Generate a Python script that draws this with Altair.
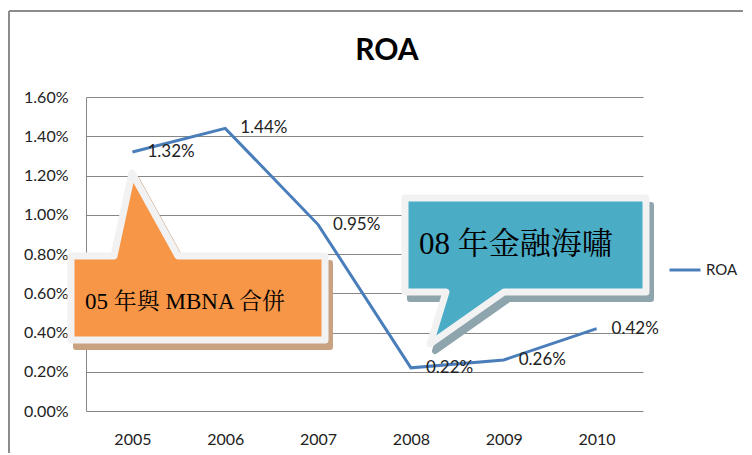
import altair as alt
import pandas as pd

# ---- data ----
years = ["2005", "2006", "2007", "2008", "2009", "2010"]
roa_pct = [1.32, 1.44, 0.95, 0.22, 0.26, 0.42]
y_ticks_pct = [0.0, 0.2, 0.4, 0.6, 0.8, 1.0, 1.2, 1.4, 1.6]
series_name = "ROA"
title_text = ["ROA"]
note_2005 = ["05 年與 MBNA 合併"]
note_2008 = ["08 年金融海嘯"]

df = pd.DataFrame({
    "year": years,
    "roa": [v / 100 for v in roa_pct],
    "series": [series_name] * len(years),
})
one = pd.DataFrame({"k": [0]})

W, H = 557, 314
LINE = "#4a7ebb"
GRID = "#868686"
SANS = "Lato"
SERIF = "Liberation Serif, Noto Serif CJK TC, Noto Sans CJK TC"

x = alt.X(
    "year:O", title=None,
    scale=alt.Scale(type="point", padding=0.5),
    axis=alt.Axis(labelAngle=0, ticks=False, domain=False, labelPadding=20,
                  labelFontSize=16, labelColor="#222", labelFont=SANS),
)
y = alt.Y(
    "roa:Q", title=None,
    scale=alt.Scale(domain=[0, 0.016], nice=False, zero=True),
    axis=alt.Axis(values=[v / 100 for v in y_ticks_pct], format=".2%", ticks=False,
                  domain=True, domainColor=GRID, gridColor=GRID, gridOpacity=1,
                  labelPadding=18, labelFontSize=16, labelColor="#222", labelFont=SANS),
)

base = alt.Chart(df)

line = base.mark_line(strokeWidth=3).encode(
    x=x, y=y,
    color=alt.Color(
        "series:N",
        scale=alt.Scale(range=[LINE]),
        legend=alt.Legend(title=None, orient="none", legendX=582, legendY=156,
                          symbolType="stroke", symbolSize=961, symbolStrokeWidth=3,
                          labelFontSize=15, labelFont=SANS, labelColor="#222",
                          labelOffset=4, padding=0),
    ),
)
labels = base.mark_text(align="left", baseline="middle", dx=15, fontSize=17,
                        font=SANS, color="#222").encode(
    x=x, y=y, text=alt.Text("roa:Q", format=".2%"))

title = alt.Chart(pd.DataFrame({"t": title_text})).mark_text(
    align="center", baseline="middle", font=SANS, fontSize=30, fontWeight="bold",
    color="#000").encode(x=alt.value(301), y=alt.value(-46), text="t:N")

# outer chart frame
frame_top = alt.Chart(one).mark_rule(color="#8c8c8c", strokeWidth=2).encode(
    x=alt.value(-77), x2=alt.value(W + 120), y=alt.value(-86))
frame_left = alt.Chart(one).mark_rule(color="#8c8c8c", strokeWidth=2).encode(
    x=alt.value(-77), y=alt.value(-86), y2=alt.value(H + 60))

ORANGE_PATH = "M-3,-3 L40,-3 L58,-86 L104,-3 L251,-3 L251,81 L-3,81 Z"
TEAL_PATH = "M-3,-3 L238,-3 L238,91 L96,91 L22,143 L38,91 L-3,91 Z"


def shape_layer(path, fill, stroke, sw, px, py):
    return alt.Chart(one).mark_point(
        shape=path, size=4, filled=True, fill=fill, stroke=stroke,
        strokeWidth=sw, strokeJoin="round", opacity=1,
    ).encode(x=alt.value(px), y=alt.value(py))


o_shadow = shape_layer(ORANGE_PATH, "#c9a282", "#c9a282", 6, -12 + 5, 162 + 7)
o_box = shape_layer(ORANGE_PATH, "#f79646", "#f2f2f2", 7, -12, 162)
t_shadow = shape_layer(TEAL_PATH, "#8ea5ae", "#8ea5ae", 6, 322 + 5, 104 + 7)
t_box = shape_layer(TEAL_PATH, "#4bacc6", "#f2f2f2", 7, 322, 104)

o_text = alt.Chart(pd.DataFrame({"t": note_2005})).mark_text(
    align="left", baseline="middle", font=SERIF, fontSize=23, color="#000"
).encode(x=alt.value(-1), y=alt.value(205), text="t:N")
t_text = alt.Chart(pd.DataFrame({"t": note_2008})).mark_text(
    align="left", baseline="middle", font=SERIF, fontSize=31, color="#000"
).encode(x=alt.value(333), y=alt.value(148), text="t:N")

chart = alt.layer(
    frame_top, frame_left, line, labels, title,
    o_shadow, o_box, t_shadow, t_box, o_text, t_text,
).properties(
    width=W, height=H,
    autosize=alt.AutoSizeParams(type="none"),
    padding={"left": 78, "top": 89, "right": 100, "bottom": 42},
).configure_view(stroke=None)

chart.save("out.html", embed_options={"renderer": "svg", "actions": False})
